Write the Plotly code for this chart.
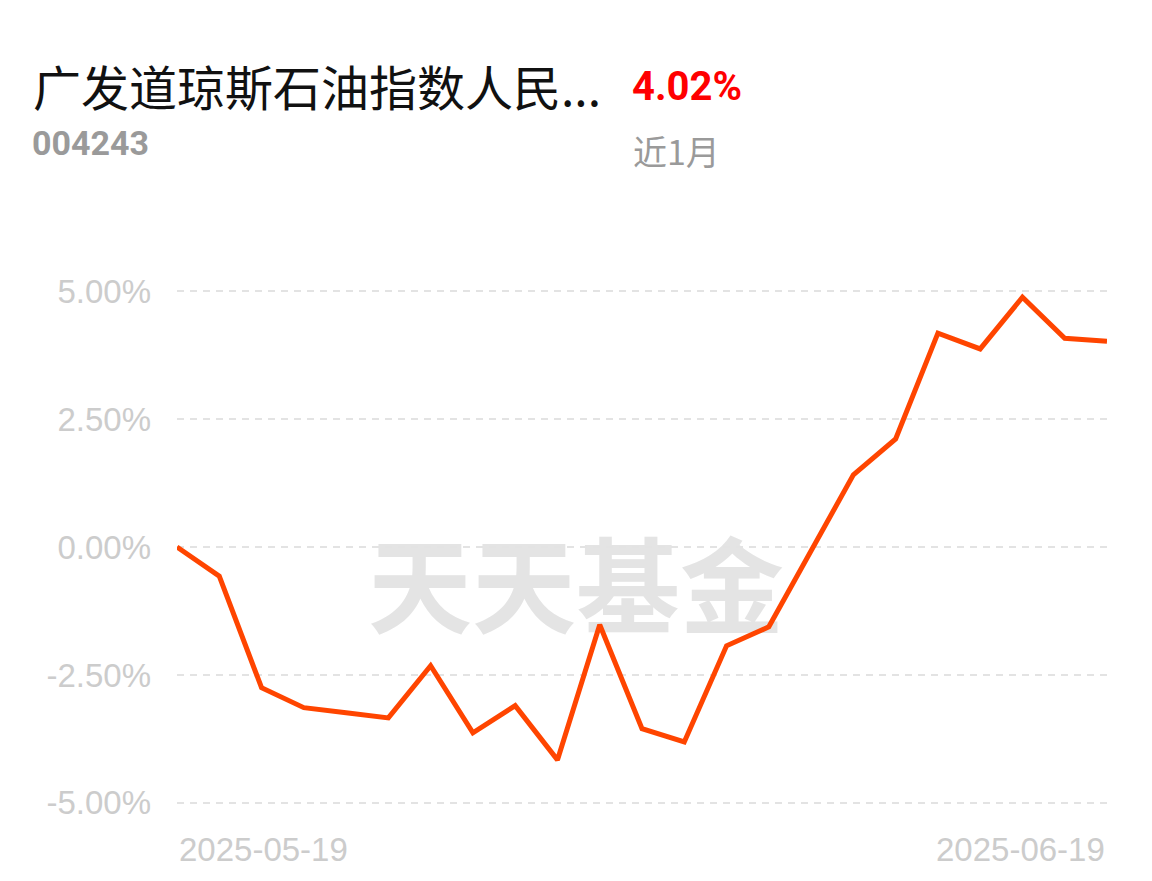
import plotly.graph_objects as go

# ---- data ----
dates = [
    "2025-05-19", "2025-05-20", "2025-05-21", "2025-05-22", "2025-05-23",
    "2025-05-26", "2025-05-27", "2025-05-28", "2025-05-29", "2025-05-30",
    "2025-06-03", "2025-06-04", "2025-06-05", "2025-06-06",
    "2025-06-09", "2025-06-10", "2025-06-11", "2025-06-12", "2025-06-13",
    "2025-06-16", "2025-06-17", "2025-06-18", "2025-06-19",
]
returns = [
    0.00, -0.57, -2.75, -3.14, -3.24, -3.34, -2.32, -3.63, -3.10, -4.16,
    -1.52, -3.55, -3.81, -1.93, -1.56, -0.08, 1.41, 2.11, 4.18, 3.87,
    4.88, 4.08, 4.02,
]
y_ticks = [-5.0, -2.5, 0.0, 2.5, 5.0]
y_ticktext = [f"{v:.2f}%" for v in y_ticks]

fund_name = "广发道琼斯石油指数人民..."
fund_code = "004243"
period_return = "4.02%"
period_label = "近1月"
watermark = "天天基金"

# ---- layout geometry (pixels) ----
W, H = 1152, 881
y_lo, y_hi = -5.1, 5.1
unit = 51.2                      # pixels per 1 %
L, R = 177, 45
T = 291 - (y_hi - 5.0) * unit
B = H - (803 + (-5.0 - y_lo) * unit)
pw, ph = W - L - R, H - T - B


def px(x):
    return (x - L) / pw


def py(y):
    return (H - B - y) / ph


axis_font = dict(family="Liberation Sans, Arial, sans-serif", size=33, color="#cccccc")

fig = go.Figure()
fig.add_trace(go.Scatter(
    x=dates, y=returns, mode="lines",
    line=dict(color="#FF4500", width=5, shape="linear"),
    hoverinfo="x+y", showlegend=False,
))

fig.update_layout(
    width=W, height=H,
    margin=dict(l=L, r=R, t=T, b=B, pad=0),
    paper_bgcolor="white", plot_bgcolor="white",
    xaxis=dict(
        type="category", range=[0, len(dates) - 1],
        showgrid=False, zeroline=False, showline=False,
        showticklabels=False, ticks="",
    ),
    yaxis=dict(
        range=[y_lo, y_hi], tickvals=y_ticks, ticktext=y_ticktext,
        showgrid=True, gridcolor="#e3e3e3", gridwidth=2, griddash="7px,6px",
        zeroline=False, showline=False, ticks="",
        tickfont=axis_font, ticklabelstandoff=25,
    ),
    shapes=[dict(
        type="rect", xref="paper", yref="paper", layer="below",
        x0=px(367), x1=px(785), y0=py(650), y1=py(546),
        line=dict(width=0), fillcolor="rgba(0,0,0,0)",
        label=dict(text=watermark, textposition="middle center",
                   font=dict(family="Noto Sans CJK SC", size=104, color="#e4e4e4", weight=700)),
    )],
    annotations=[
        dict(text=fund_name, xref="paper", yref="paper", x=px(31), y=py(85),
             xanchor="left", yanchor="middle", showarrow=False,
             font=dict(family="Noto Sans CJK SC", size=48, color="#111111")),
        dict(text=period_return, xref="paper", yref="paper", x=px(630), y=py(86),
             xanchor="left", yanchor="middle", showarrow=False,
             font=dict(family="Roboto", size=40, color="#ff0000", weight=700)),
        dict(text=fund_code, xref="paper", yref="paper", x=px(30), y=py(143),
             xanchor="left", yanchor="middle", showarrow=False,
             font=dict(family="Roboto", size=34, color="#9a9a9a", weight=700)),
        dict(text=period_label, xref="paper", yref="paper", x=px(631), y=py(150),
             xanchor="left", yanchor="middle", showarrow=False,
             font=dict(family="Noto Sans CJK SC", size=34, color="#9a9a9a")),
        dict(text=dates[0], xref="x", yref="paper", x=dates[0], y=py(850),
             xanchor="left", yanchor="middle", showarrow=False, font=axis_font),
        dict(text=dates[-1], xref="x", yref="paper", x=dates[-1], y=py(850),
             xanchor="right", yanchor="middle", showarrow=False, font=axis_font),
    ],
)

fig.write_html(
    "out.html",
    config={"displayModeBar": False},
    post_script="document.body.style.margin='0';document.body.style.overflow='hidden';",
)
